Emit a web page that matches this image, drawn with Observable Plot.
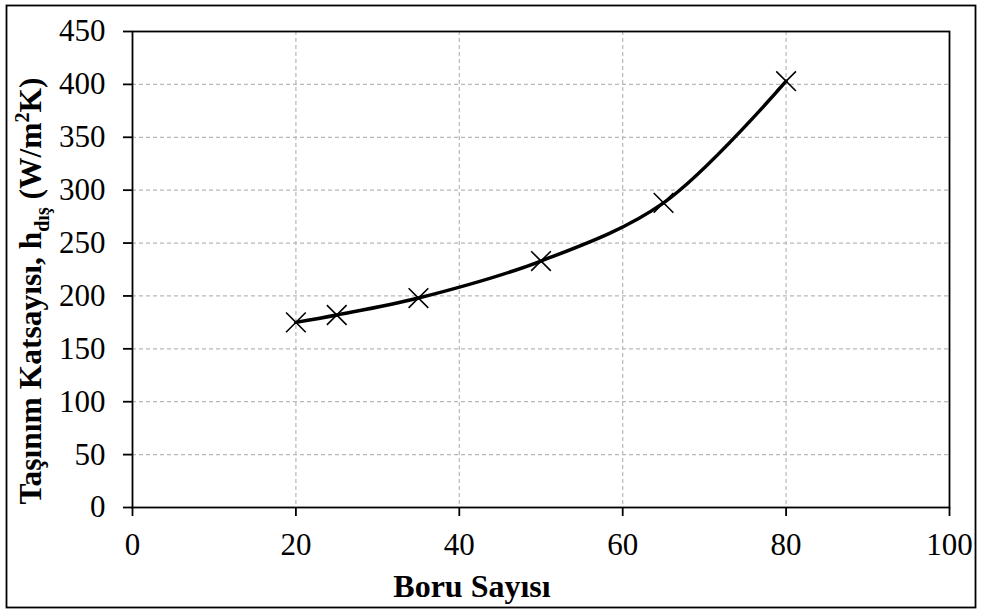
<!DOCTYPE html>
<html>
<head>
<meta charset="utf-8">
<script src="https://cdn.jsdelivr.net/npm/d3@7"></script>
<script src="https://cdn.jsdelivr.net/npm/@observablehq/plot@0.6"></script>
<style>
  html, body { margin: 0; padding: 0; background: #fff; }
  svg { display: block; }
</style>
</head>
<body>
<script>
const boruSayisi = [20, 25, 35, 50, 65, 80];
const hDis = [175, 182, 198, 233, 288, 403];
const xTicks = [0, 20, 40, 60, 80, 100];
const yTicks = [0, 50, 100, 150, 200, 250, 300, 350, 400, 450];
const xGrid = [20, 40, 60, 80];
const yGrid = [50, 100, 150, 200, 250, 300, 350, 400];
const xTitle = "Boru Sayısı";

const data = boruSayisi.map((b, i) => ({x: b, y: hDis[i]}));
const font = "'Liberation Serif', 'Times New Roman', serif";

const chart = Plot.plot({
  width: 981,
  height: 610,
  marginLeft: 132,
  marginRight: 32,
  marginTop: 31,
  marginBottom: 103,
  style: {fontFamily: font, fontSize: "31px", color: "black", background: "white"},
  x: {domain: [0, 100]},
  y: {domain: [0, 450]},
  marks: [
    Plot.gridX(xGrid, {stroke: "#b8b8b8", strokeOpacity: 1, strokeWidth: 1.2, strokeDasharray: "4,3"}),
    Plot.gridY(yGrid, {stroke: "#b8b8b8", strokeOpacity: 1, strokeWidth: 1.2, strokeDasharray: "4,3"}),
    Plot.frame({stroke: "black", strokeWidth: 1.8}),
    Plot.axisX(xTicks, {tickSize: 9, tickPadding: 16, strokeWidth: 1.8, label: null, fontSize: 31}),
    Plot.axisY(yTicks, {tickSize: 9, tickPadding: 18, strokeWidth: 1.8, label: null, fontSize: 31}),
    Plot.line(data, {x: "x", y: "y", curve: "catmull-rom", stroke: "black", strokeWidth: 3.5}),
    Plot.dot(data, {x: "x", y: "y", symbol: "times", r: 9, stroke: "black", strokeWidth: 1.6})
  ]
});

const svg = d3.select(chart);
svg.append("rect")
  .attr("x", 6.5).attr("y", 5.5).attr("width", 969).attr("height", 602)
  .attr("fill", "none").attr("stroke", "black").attr("stroke-width", 1.8);

svg.append("text")
  .attr("x", 472).attr("y", 597)
  .attr("text-anchor", "middle")
  .attr("font-family", font).attr("font-weight", "bold").attr("font-size", 32)
  .attr("fill", "black")
  .text(xTitle);

const yt = svg.append("text")
  .attr("transform", "translate(41,291) rotate(-90)")
  .attr("text-anchor", "middle")
  .attr("font-family", font).attr("font-weight", "bold").attr("font-size", 31.5)
  .attr("fill", "black");
yt.append("tspan").text("Taşınım Katsayısı, h");
yt.append("tspan").attr("dy", 8).attr("font-size", 20).text("dış");
yt.append("tspan").attr("dy", -8).text(" (W/m");
yt.append("tspan").attr("dy", -12).attr("font-size", 20).text("2");
yt.append("tspan").attr("dy", 12).text("K)");

document.body.appendChild(chart);
</script>
</body>
</html>
